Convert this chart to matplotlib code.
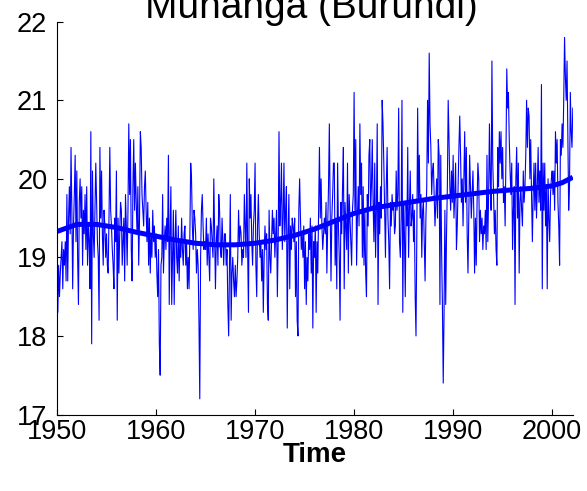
import numpy as np
import matplotlib
matplotlib.use('Agg')
import matplotlib.pyplot as plt

plt.rcParams['font.family'] = ['Liberation Sans', 'DejaVu Sans']

# monthly mean temperature (deg C), one list per decade, January first
temp_1950s = [
    18.7, 18.3, 18.9, 18.5, 18.8, 19.0, 19.2, 18.6, 19.1, 18.9, 19.2, 18.7,
    19.8, 18.7, 19.5, 19.9, 19.3, 20.4, 19.6, 18.6, 19.4, 19.8, 20.3, 19.2,
    20.1, 19.0, 18.4, 19.7, 20.0, 19.5, 19.9, 18.9, 19.6, 19.3, 19.8, 19.1,
    19.9, 18.9, 19.4, 19.2, 18.6, 20.6, 17.9, 20.1, 19.3, 19.0, 19.6, 20.2,
    19.7, 19.2, 19.0, 18.2, 20.4, 19.5, 20.1, 19.3, 18.9, 19.6, 19.4, 19.0,
    19.3, 18.9, 18.8, 19.5, 20.4, 19.6, 19.4, 19.1, 18.9, 18.6, 19.5, 19.2,
    20.1, 18.2, 19.5, 18.8, 19.3, 19.7, 19.6, 18.9, 19.2, 19.5, 18.7, 19.8,
    19.4, 18.9, 19.6, 20.7, 19.8, 20.5, 19.1, 18.7, 19.9, 20.5, 19.6, 20.2,
    19.7, 19.3, 19.9, 18.9, 19.5, 20.6, 20.4, 19.8, 19.6, 19.4, 19.9, 20.1,
    19.6, 19.2, 19.7, 18.9, 19.5, 18.8, 19.3, 19.0, 19.6, 19.2, 19.4, 19.0,
]
temp_1960s = [
    19.3, 18.8, 18.5, 19.1, 17.9, 17.5, 18.9, 19.0, 19.8, 18.8, 19.2, 19.4,
    19.1, 19.5, 19.2, 20.3, 18.4, 19.3, 19.9, 18.4, 19.0, 19.6, 18.4, 19.2,
    19.6, 19.0, 18.8, 19.4, 18.7, 19.2, 19.0, 19.5, 19.1, 18.9, 19.3, 19.4,
    18.9, 19.2, 18.6, 19.0, 18.6, 19.3, 20.2, 20.0, 19.4, 19.1, 19.6, 19.5,
    19.3, 18.8, 19.1, 18.9, 18.2, 17.2, 19.0, 19.6, 19.8, 19.4, 19.1, 19.2,
    19.1, 19.5, 18.9, 19.3, 19.0, 18.7, 19.5, 19.4, 19.2, 19.0, 20.0, 19.3,
    18.6, 19.2, 19.4, 18.9, 19.8, 19.6, 19.1, 19.0, 19.5, 19.2, 18.9, 19.3,
    19.3, 18.9, 19.1, 18.4, 18.0, 18.9, 19.8, 18.2, 18.8, 19.0, 18.7, 18.5,
    18.9, 18.5, 18.7, 19.0, 19.6, 19.2, 19.4, 19.3, 18.9, 19.1, 19.0, 19.8,
    19.4, 19.0, 20.2, 19.1, 18.3, 20.0, 19.5, 19.8, 19.2, 18.9, 19.4, 19.6,
]
temp_1970s = [
    20.2, 18.9, 18.5, 19.4, 19.8, 19.3, 19.0, 19.2, 18.7, 19.1, 18.3, 19.0,
    19.4, 19.1, 19.3, 18.4, 18.2, 19.6, 19.0, 18.8, 19.2, 19.6, 19.3, 19.5,
    19.0, 19.3, 19.6, 18.5, 19.2, 20.6, 19.4, 19.7, 20.2, 19.1, 19.5, 20.2,
    19.2, 19.6, 19.9, 18.1, 19.3, 19.8, 18.6, 19.4, 19.1, 19.5, 19.4, 19.2,
    19.5, 18.5, 19.2, 18.2, 18.0, 19.6, 20.0, 19.5, 19.1, 19.3, 19.0, 19.4,
    18.6, 19.2, 18.4, 19.0, 18.7, 19.3, 19.1, 19.5, 18.8, 19.4, 18.1, 19.2,
    19.0, 19.4, 18.3, 19.2, 18.8, 19.6, 20.4, 19.5, 20.0, 19.4, 19.1, 19.3,
    19.5, 19.3, 19.7, 18.8, 19.4, 19.9, 20.7, 19.6, 18.7, 19.5, 19.8, 20.2,
    20.2, 18.9, 19.5, 18.6, 20.2, 19.4, 19.0, 18.2, 19.7, 19.3, 19.9, 20.4,
    18.6, 19.7, 19.4, 19.1, 20.2, 18.8, 19.8, 19.5, 19.2, 18.9, 19.6, 19.8,
]
temp_1980s = [
    21.1, 19.6, 20.5, 18.9, 19.5, 19.9, 19.4, 20.7, 19.8, 20.2, 19.0, 19.9,
    18.9, 19.6, 18.8, 18.5, 19.8, 19.4, 20.3, 20.5, 19.6, 19.9, 20.5, 19.7,
    19.2, 20.2, 19.0, 19.6, 20.7, 18.4, 19.7, 19.3, 19.9, 19.5, 21.0, 20.7,
    20.2, 19.6, 19.0, 19.9, 20.4, 19.5, 19.2, 18.6, 19.7, 19.4, 19.8, 19.6,
    19.7, 19.3, 19.4, 20.1, 19.6, 19.8, 20.9, 19.2, 19.0, 19.5, 21.0, 18.3,
    19.7, 19.3, 18.5, 19.7, 19.4, 20.4, 19.0, 19.6, 20.1, 19.4, 19.5, 19.8,
    19.2, 19.6, 18.5, 18.0, 19.3, 20.9, 19.7, 20.3, 19.5, 19.8, 19.0, 19.6,
    19.7, 19.2, 18.7, 19.5, 19.9, 21.0, 20.2, 21.6, 20.7, 20.4, 19.8, 20.1,
    20.2, 19.8, 19.4, 19.7, 20.0, 19.5, 20.5, 20.3, 18.4, 20.3, 19.1, 18.4,
    17.4, 18.3, 19.6, 18.4, 19.3, 19.9, 21.0, 20.5, 19.9, 19.6, 20.1, 19.7,
]
temp_1990s = [
    20.3, 19.5, 19.8, 20.2, 19.1, 19.4, 19.9, 20.4, 20.8, 20.3, 19.7, 20.0,
    19.4, 20.0, 20.6, 19.7, 20.4, 19.3, 18.8, 19.6, 20.3, 19.9, 19.5, 19.8,
    20.1, 19.6, 18.8, 19.5, 18.9, 19.7, 20.2, 20.0, 19.2, 19.6, 19.3, 19.5,
    19.1, 19.4, 19.3, 19.6, 19.1, 20.3, 19.2, 19.8, 20.7, 20.0, 19.6, 21.5,
    20.2, 19.8, 19.3, 19.6, 19.1, 18.9, 20.4, 19.9, 20.6, 20.2, 20.6, 20.0,
    20.4, 19.7, 19.9, 19.4, 20.3, 21.4, 20.9, 21.1, 20.5, 20.1, 19.8, 20.2,
    19.1, 19.6, 19.9, 18.4, 20.0, 20.4, 19.5, 20.2, 18.8, 19.7, 19.9, 19.6,
    19.4, 20.1, 19.7, 19.9, 20.3, 21.0, 20.4, 20.9, 20.8, 20.0, 20.5, 19.8,
    19.2, 19.8, 20.2, 19.6, 20.2, 19.5, 19.9, 20.4, 19.7, 20.1, 19.6, 21.2,
    18.6, 20.2, 19.6, 20.2, 19.4, 19.9, 18.6, 20.0, 19.5, 19.2, 19.8, 20.0,
]
temp_2000s = [
    20.1, 19.8, 20.1, 19.6, 20.6, 20.2, 20.5, 19.7, 19.4, 18.9, 20.5, 20.3,
    20.7, 20.4, 21.0, 21.8, 21.3, 21.0, 21.5, 20.6, 19.6, 19.9, 21.1, 20.6,
    20.4, 20.9,
]

# smoothed long-term trend
trend_year = [1950, 1952, 1954, 1956, 1958, 1960, 1962, 1964, 1966, 1968,
              1970, 1972, 1974, 1976, 1978, 1980, 1982, 1984, 1986, 1988,
              1990, 1992, 1994, 1996, 1998, 2000, 2001, 2002.08]
trend_temp = [19.33, 19.42, 19.42, 19.38, 19.32, 19.27, 19.22, 19.18, 19.16, 19.16,
              19.18, 19.22, 19.28, 19.36, 19.46, 19.56, 19.63, 19.67, 19.71, 19.75,
              19.78, 19.81, 19.84, 19.86, 19.88, 19.91, 19.95, 20.02]

temp = np.array(temp_1950s + temp_1960s + temp_1970s + temp_1980s + temp_1990s + temp_2000s)
t = 1950 + np.arange(len(temp)) / 12.0

fig = plt.figure(figsize=(5.87, 4.91), dpi=100)
ax = fig.add_axes([0.0971, 0.1558, 0.879, 0.800])

ax.plot(t, temp, color='#0000ff', lw=0.8)
ax.plot(trend_year, trend_temp, color='#0000ff', lw=3.6, solid_capstyle='butt')

ax.set_xlim(1950, 2002.1)
ax.set_ylim(17, 22)
ax.set_xticks([1950, 1960, 1970, 1980, 1990, 2000])
ax.set_yticks([17, 18, 19, 20, 21, 22])

for side in ['top', 'right']:
    ax.spines[side].set_visible(False)
for side in ['left', 'bottom']:
    ax.spines[side].set_linewidth(0.8)
ax.tick_params(direction='in', length=4, width=0.8, labelsize=19.5)
ax.tick_params(axis='x', pad=3)
ax.tick_params(axis='y', pad=7)

ax.set_xlabel('Time', fontsize=20, fontweight='bold', labelpad=-2)
fig.text(0.530, 0.963, 'Muhanga (Burundi)', fontsize=28, ha='center', va='baseline')

fig.savefig('out.png', dpi=100)
